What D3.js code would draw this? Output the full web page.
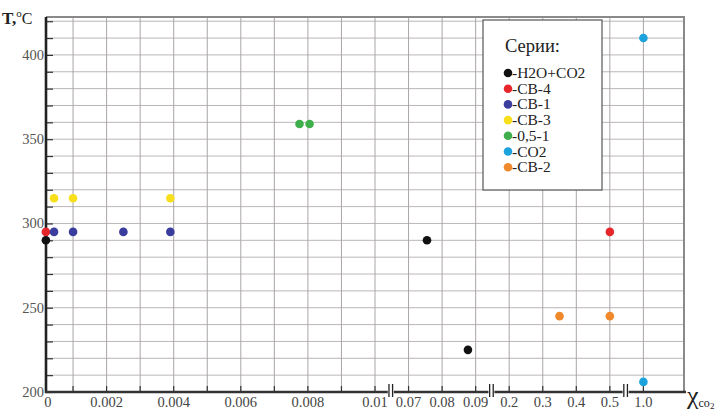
<!DOCTYPE html>
<html>
<head>
<meta charset="utf-8">
<script src="https://cdn.jsdelivr.net/npm/d3@7"></script>
<style>
  body { margin: 0; background: #fff; }
  svg { display: block; font-family: "Liberation Serif", "DejaVu Serif", serif; }
</style>
</head>
<body>
<svg id="chart"></svg>
<script>
// ---- data ----
const seriesNames = ["-H2O+CO2", "-CB-4", "-CB-1", "-CB-3", "-0,5-1", "-CO2", "-CB-2"];
const seriesColors = ["#111111", "#e6262b", "#3a3c9e", "#f8df1c", "#3faf4b", "#1ca2dc", "#f0892b"];

const h2oCo2 = [[0, 290], [0.0755, 290], [0.0877, 225]];
const cb4 = [[0, 295], [0.5, 295]];
const cb1 = [[0.0003, 295], [0.001, 295], [0.0025, 295], [0.0039, 295]];
const cb3 = [[0.0003, 315], [0.001, 315], [0.0039, 315]];
const ratio05 = [[0.00775, 359], [0.00805, 359]];
const co2 = [[1.0, 410], [1.0, 206]];
const cb2 = [[0.35, 245], [0.5, 245]];

const seriesData = [h2oCo2, cb4, cb1, cb3, ratio05, co2, cb2];

// x axis is broken: 0..0.01 | 0.07..0.09 | 0.2..0.5 | 1.0
const xGridValues = [0, 0.001, 0.002, 0.003, 0.004, 0.005, 0.006, 0.007, 0.008, 0.009, 0.01,
                     0.07, 0.08, 0.09, 0.2, 0.3, 0.4, 0.5, 1.0];
const xTickLabels = [[0, "0"], [0.002, "0.002"], [0.004, "0.004"], [0.006, "0.006"], [0.008, "0.008"],
                     [0.01, "0.01"], [0.07, "0.07"], [0.08, "0.08"], [0.09, "0.09"], [0.2, "0.2"],
                     [0.3, "0.3"], [0.4, "0.4"], [0.5, "0.5"], [1.0, "1.0"]];
const xBreaks = [[0.01, 0.07], [0.09, 0.2], [0.5, 1.0]];
const yTickLabels = [200, 250, 300, 350, 400];

// ---- layout ----
const width = 723, height = 410;
const margin = { left: 46, top: 17, right: 684, bottom: 392 };
const slot = 33.55, slot0 = 39.5; // one grid cell per tick position

const svg = d3.select("#chart").attr("width", width).attr("height", height);

// piecewise scale: domain value -> slot index -> pixel
const xDomain = [0, 0.001, 0.01, 0.07, 0.09, 0.2, 0.5, 1.0];
const xSlots = [0.19, 1, 10, 11, 13, 14, 17, 18];
const x = d3.scaleLinear().domain(xDomain).range(xSlots.map(s => slot0 + s * slot));

const y = d3.scaleLinear().domain([200, 422.5]).range([margin.bottom, margin.top]);
const yGrid = d3.range(200, 421, 10);

// grid
svg.append("g")
    .selectAll("line")
    .data(yGrid.slice(1))
    .join("line")
    .attr("x1", margin.left).attr("x2", margin.right)
    .attr("y1", d => y(d)).attr("y2", d => y(d))
    .attr("stroke", "#bbb6b8").attr("stroke-width", 1);

svg.append("g")
    .selectAll("line")
    .data(xGridValues.slice(1))
    .join("line")
    .attr("x1", d => x(d)).attr("x2", d => x(d))
    .attr("y1", margin.top).attr("y2", margin.bottom)
    .attr("stroke", "#aaa5a8").attr("stroke-width", 1);

// frame top / right
svg.append("path")
    .attr("d", `M${margin.left},${margin.top}H${margin.right}V${margin.bottom}`)
    .attr("fill", "none").attr("stroke", "#8a8a8a").attr("stroke-width", 2);

// Y axis
const yAxis = svg.append("g")
    .attr("transform", `translate(${margin.left},0)`)
    .call(d3.axisRight(y).tickValues(yGrid).tickSize(7).tickFormat(""));
yAxis.select(".domain").remove();
yAxis.selectAll(".tick line").attr("stroke", "#333").attr("stroke-width", 1.2);

svg.append("g")
    .selectAll("text")
    .data(yTickLabels)
    .join("text")
    .attr("x", margin.left - 2)
    .attr("y", d => y(d) + 5)
    .attr("text-anchor", "end")
    .attr("font-size", 14.5)
    .attr("fill", "#555")
    .text(d => d);

// X axis ticks
svg.append("g")
    .selectAll("line")
    .data(xGridValues.slice(1))
    .join("line")
    .attr("x1", d => x(d)).attr("x2", d => x(d))
    .attr("y1", margin.bottom).attr("y2", margin.bottom - 6)
    .attr("stroke", "#333").attr("stroke-width", 1.2);

svg.append("g")
    .selectAll("text")
    .data(xTickLabels)
    .join("text")
    .attr("x", d => x(d[0]) + (d[0] === 0 ? 2 : 0))
    .attr("y", margin.bottom + 15)
    .attr("text-anchor", "middle")
    .attr("font-size", 14.5)
    .attr("fill", "#444")
    .text(d => d[1]);

// axis lines
svg.append("line")
    .attr("x1", margin.left).attr("x2", margin.left).attr("y1", margin.top).attr("y2", margin.bottom + 1)
    .attr("stroke", "#222").attr("stroke-width", 2.6);
svg.append("line")
    .attr("x1", margin.left - 1).attr("x2", margin.right + 2).attr("y1", margin.bottom).attr("y2", margin.bottom)
    .attr("stroke", "#333").attr("stroke-width", 2.4);

// break marks
const brk = svg.append("g")
    .selectAll("g")
    .data(xBreaks)
    .join("g")
    .attr("transform", d => `translate(${(x(d[0]) + x(d[1])) / 2 - 1},${margin.bottom})`);
brk.append("rect").attr("x", -3).attr("y", -8).attr("width", 6).attr("height", 12).attr("fill", "#fff");
brk.append("line").attr("x1", -1.8).attr("x2", -1.8).attr("y1", -8).attr("y2", 5)
    .attr("stroke", "#222").attr("stroke-width", 1.3);
brk.append("line").attr("x1", 1.8).attr("x2", 1.8).attr("y1", -8).attr("y2", 5)
    .attr("stroke", "#222").attr("stroke-width", 1.3);

// points
seriesData.forEach((pts, i) => {
    svg.append("g")
        .selectAll("circle")
        .data(pts)
        .join("circle")
        .attr("cx", d => x(d[0]))
        .attr("cy", d => y(d[1]))
        .attr("r", 4.3)
        .attr("fill", seriesColors[i]);
});

// axis titles
const tTitle = svg.append("text").attr("x", 2).attr("y", 24).attr("fill", "#222");
tTitle.append("tspan").attr("font-size", 17).attr("font-weight", "bold").text("T,");
tTitle.append("tspan").attr("font-size", 11).attr("dy", -7).text("o");
tTitle.append("tspan").attr("font-size", 16).attr("dy", 7).text("C");

const xTitle = svg.append("text").attr("x", 687).attr("y", 404).attr("fill", "#222");
xTitle.append("tspan").attr("font-size", 26).text("χ");
xTitle.append("tspan").attr("font-size", 12).attr("dy", 3).text("co");
xTitle.append("tspan").attr("font-size", 9).attr("dy", 2).text("2");

// legend
const legend = svg.append("g");
legend.append("rect")
    .attr("x", 483).attr("y", 20).attr("width", 119).attr("height", 170)
    .attr("fill", "#fff").attr("stroke", "#555").attr("stroke-width", 1.2);
legend.append("text")
    .attr("x", 505).attr("y", 52)
    .attr("font-size", 18.5).attr("fill", "#222")
    .text("Серии:");
const item = legend.selectAll("g.item")
    .data(seriesNames)
    .join("g")
    .attr("class", "item")
    .attr("transform", (d, i) => `translate(508,${73 + i * 15.7})`);
item.append("circle").attr("r", 4.3).attr("fill", (d, i) => seriesColors[i]);
item.append("text")
    .attr("x", 4).attr("y", 5)
    .attr("font-size", 15.5).attr("fill", "#222")
    .attr("textLength", (d, i) => null)
    .text(d => d);
</script>
</body>
</html>
